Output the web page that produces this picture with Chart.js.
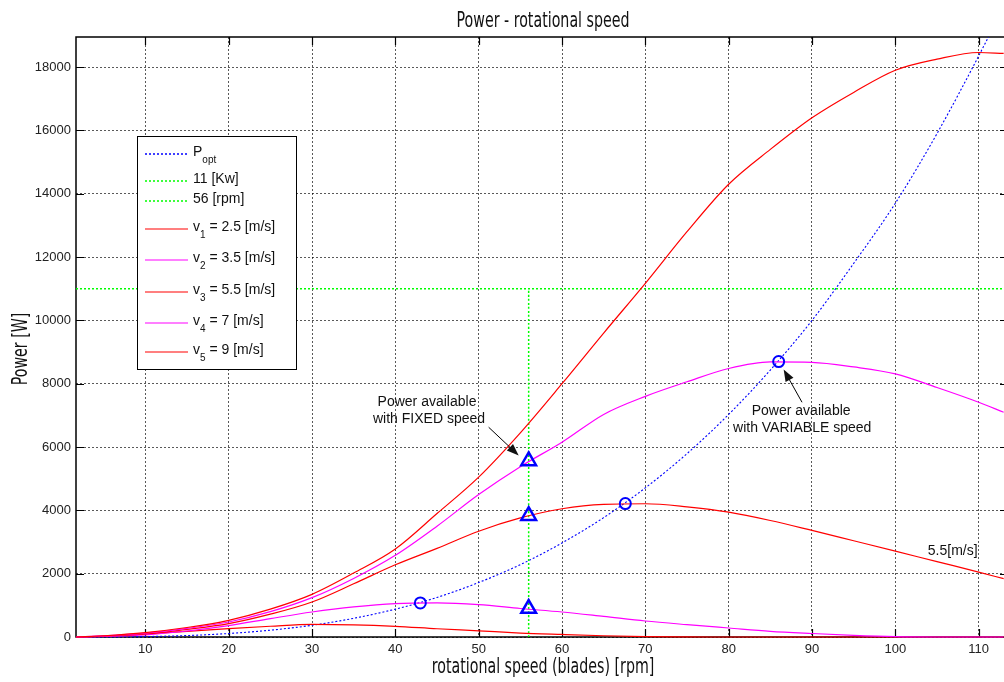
<!DOCTYPE html>
<html>
<head>
<meta charset="utf-8">
<title>Power - rotational speed</title>
<script src="https://cdn.jsdelivr.net/npm/chart.js@4.4.0/dist/chart.umd.min.js"></script>
<style>
  html, body { margin: 0; padding: 0; background: #fff; }
  #wrap { width: 1004px; height: 682px; }
</style>
</head>
<body>
<div id="wrap"><canvas id="powerChart" width="1004" height="682"></canvas></div>
<script>
// rotational speed of the blades [rpm], shared by every curve
const rpm = [1.7, 5, 10, 15, 20, 25, 30, 35, 40, 45, 50, 55, 60, 65, 70, 75, 80, 85, 90, 95, 100, 105, 110, 113];

// power [W]
const pOpt = [0, 2, 14, 46, 110, 215, 370, 590, 880, 1250, 1720, 2285, 2970, 3770, 4710, 5790, 7030, 8430, 10000, 11800, 13700, 15900, 18350, 19900];
const pV1  = [0, 25, 100, 180, 265, 340, 400, 385, 337, 260, 195, 125, 80, 40, 12, 2, 0, 0, 0, 0, 0, 0, 0, 0];
const pV2  = [0, 20, 70, 190, 360, 580, 789, 950, 1053, 1075, 1022, 900, 790, 650, 505, 390, 284, 180, 110, 50, 10, 0, 0, 0];
const pV3  = [0, 30, 100, 240, 422, 720, 1105, 1680, 2280, 2800, 3340, 3760, 4050, 4190, 4209, 4110, 3944, 3680, 3366, 3040, 2713, 2380, 2051, 1842];
const pV4  = [0, 35, 120, 270, 473, 800, 1243, 1850, 2580, 3500, 4500, 5380, 6152, 7030, 7600, 8060, 8480, 8690, 8676, 8530, 8310, 7880, 7414, 7099];
const pV5  = [0, 40, 140, 300, 527, 880, 1347, 2020, 2780, 3900, 5050, 6450, 8000, 9600, 11170, 12800, 14300, 15400, 16400, 17200, 17900, 18250, 18460, 18430];

// optimum operating points (variable speed) and fixed-speed points
const optRpm = [43, 67.6, 86];
const optPower = [1075, 4215, 8700];
const fixedRpm = [56, 56, 56];
const fixedPower = [900, 3830, 5560];

// rated power and rated speed
const ratedPower = 11000;
const ratedRpm = 56;

const xTicks = [10, 20, 30, 40, 50, 60, 70, 80, 90, 100, 110];
const yTicks = [0, 2000, 4000, 6000, 8000, 10000, 12000, 14000, 16000, 18000];
const xMin = 1.68, xMax = 113.04, yMax = 18950;

const RED = '#ff0000', MAGENTA = '#ff00ff', BLUE = '#0000ff', GREEN = '#00ff00';

const toXY = arr => rpm.map((x, i) => ({ x, y: arr[i] }));

function curve(data, color, dash, width) {
    return {
        data,
        borderColor: color,
        borderWidth: width || 1.2,
        borderDash: dash || [],
        pointRadius: 0,
        fill: false,
        cubicInterpolationMode: 'monotone',
        clip: { left: 0, top: 0, right: 0, bottom: 3 }
    };
}

// legend rows: main text, subscript, rest of text, colour, dash, line y
const legendRows = [
    ['P', 'opt', '', BLUE, [2, 2], 154],
    ['11 [Kw]', '', '', GREEN, [2, 2], 181],
    ['56 [rpm]', '', '', GREEN, [2, 2], 201],
    ['v', '1', ' = 2.5 [m/s]', RED, [], 229],
    ['v', '2', ' = 3.5 [m/s]', MAGENTA, [], 260],
    ['v', '3', ' = 5.5 [m/s]', RED, [], 292],
    ['v', '4', ' = 7 [m/s]', MAGENTA, [], 323],
    ['v', '5', ' = 9 [m/s]', RED, [], 352]
];

function arrow(ctx, x1, y1, x2, y2) {
    const a = Math.atan2(y2 - y1, x2 - x1);
    const head = 12, half = 4.5;
    ctx.beginPath();
    ctx.moveTo(x1, y1);
    ctx.lineTo(x2 - head * 0.8 * Math.cos(a), y2 - head * 0.8 * Math.sin(a));
    ctx.stroke();
    ctx.beginPath();
    ctx.moveTo(x2, y2);
    ctx.lineTo(x2 - head * Math.cos(a) + half * Math.sin(a), y2 - head * Math.sin(a) - half * Math.cos(a));
    ctx.lineTo(x2 - head * Math.cos(a) - half * Math.sin(a), y2 - head * Math.sin(a) + half * Math.cos(a));
    ctx.closePath();
    ctx.fill();
}

const matlabLook = {
    id: 'matlabLook',
    beforeDatasetsDraw(chart) {
        const { ctx, chartArea: a, scales: { x, y } } = chart;
        ctx.save();
        ctx.strokeStyle = '#000';
        ctx.lineWidth = 1.5;
        ctx.beginPath();
        ctx.moveTo(a.right + 2, a.top);
        ctx.lineTo(a.left, a.top);
        ctx.lineTo(a.left, a.bottom);
        ctx.lineTo(a.right + 2, a.bottom);
        ctx.stroke();
        // ticks pointing inwards
        ctx.lineWidth = 1.2;
        ctx.beginPath();
        xTicks.forEach(v => {
            const px = Math.round(x.getPixelForValue(v)) + 0.5;
            ctx.moveTo(px, a.bottom); ctx.lineTo(px, a.bottom - 8);
            ctx.moveTo(px, a.top); ctx.lineTo(px, a.top + 8);
        });
        yTicks.forEach(v => {
            const py = Math.round(y.getPixelForValue(v)) + 0.5;
            ctx.moveTo(a.left, py); ctx.lineTo(a.left + 8, py);
            ctx.moveTo(a.right, py); ctx.lineTo(a.right - 4, py);
        });
        ctx.stroke();
        ctx.restore();
    },
    afterDraw(chart) {
        const { ctx, scales: { x, y } } = chart;
        ctx.save();

        // legend box
        ctx.fillStyle = '#fff';
        ctx.fillRect(137, 136, 160, 234);
        ctx.strokeStyle = '#000';
        ctx.lineWidth = 1;
        ctx.strokeRect(137.5, 136.5, 159, 233);
        legendRows.forEach(([main, sub, rest, color, dash, ly]) => {
            ctx.strokeStyle = color;
            ctx.lineWidth = dash.length ? 1.5 : 1.2;
            ctx.setLineDash(dash);
            ctx.beginPath();
            ctx.moveTo(145, ly);
            ctx.lineTo(188, ly);
            ctx.stroke();
            ctx.setLineDash([]);
            ctx.fillStyle = '#111';
            ctx.textAlign = 'left';
            ctx.textBaseline = 'middle';
            ctx.font = '14px "Liberation Sans", Arial, sans-serif';
            let tx = 193;
            ctx.fillText(main, tx, ly - 2);
            tx += ctx.measureText(main).width;
            if (sub) {
                ctx.font = '10px "Liberation Sans", Arial, sans-serif';
                ctx.fillText(sub, tx, ly + 6);
                tx += ctx.measureText(sub).width;
                ctx.font = '14px "Liberation Sans", Arial, sans-serif';
                ctx.fillText(rest, tx, ly - 2);
            }
        });

        // annotations
        ctx.fillStyle = '#111';
        ctx.strokeStyle = '#000';
        ctx.lineWidth = 1;
        ctx.font = '14px "Liberation Sans", Arial, sans-serif';
        ctx.textAlign = 'center';
        ctx.textBaseline = 'middle';
        let cx = x.getPixelForValue(43.8), cy = y.getPixelForValue(7164);
        ctx.fillText('Power available', cx, cy - 8.5);
        ctx.fillText('with FIXED speed', cx + 2, cy + 8.5);
        arrow(ctx, x.getPixelForValue(51.2), y.getPixelForValue(6625), x.getPixelForValue(54.8), y.getPixelForValue(5733));

        cx = x.getPixelForValue(88.7); cy = y.getPixelForValue(6873);
        ctx.fillText('Power available', cx, cy - 8.5);
        ctx.fillText('with VARIABLE speed', cx + 1, cy + 8.5);
        arrow(ctx, x.getPixelForValue(88.8), y.getPixelForValue(7414), x.getPixelForValue(86.6), y.getPixelForValue(8450));

        ctx.textAlign = 'left';
        ctx.fillText('5.5[m/s]', x.getPixelForValue(103.9), y.getPixelForValue(2708));

        // title and axis labels in a narrow face
        ctx.fillStyle = '#111';
        ctx.font = '22px "DejaVu Sans", sans-serif';
        ctx.textAlign = 'center';
        ctx.textBaseline = 'alphabetic';
        const title = 'Power - rotational speed';
        const sx = 173 / ctx.measureText(title).width;
        const narrow = (text, px, py, rot) => {
            ctx.save();
            ctx.translate(px, py);
            if (rot) ctx.rotate(rot);
            ctx.scale(sx, 1);
            ctx.fillText(text, 0, 0);
            ctx.restore();
        };
        narrow(title, 543, 27);
        narrow('rotational speed (blades) [rpm]', 543, 673);
        narrow('Power [W]', 27, 349, -Math.PI / 2);
        ctx.restore();
    }
};

const tickFont = { family: '"Liberation Sans", Arial, sans-serif', size: 13 };

new Chart(document.getElementById('powerChart'), {
    type: 'line',
    data: {
        datasets: [
            {
                data: optRpm.map((v, i) => ({ x: v, y: optPower[i] })),
                showLine: false,
                pointStyle: 'circle',
                pointRadius: 5.5,
                pointBorderWidth: 2,
                pointBorderColor: BLUE,
                pointBackgroundColor: 'rgba(0,0,0,0)'
            },
            {
                data: fixedRpm.map((v, i) => ({ x: v, y: fixedPower[i] })),
                showLine: false,
                pointStyle: 'triangle',
                pointRadius: 8.5,
                pointBorderWidth: 2.5,
                pointBorderColor: BLUE,
                pointBackgroundColor: 'rgba(0,0,0,0)'
            },
            curve(toXY(pV5), RED),
            curve(toXY(pV4), MAGENTA),
            curve(toXY(pV3), RED),
            curve(toXY(pV2), MAGENTA),
            curve(toXY(pV1), RED),
            curve([{ x: ratedRpm, y: 0 }, { x: ratedRpm, y: ratedPower }], GREEN, [2, 2], 1.5),
            curve([{ x: xMin, y: ratedPower }, { x: xMax, y: ratedPower }], GREEN, [2, 2], 1.5),
            curve(toXY(pOpt), BLUE, [2, 2], 1.1)
        ]
    },
    options: {
        responsive: false,
        animation: false,
        events: [],
        layout: { autoPadding: false, padding: { top: 37, right: 0, left: 0, bottom: 0 } },
        plugins: { legend: { display: false }, tooltip: { enabled: false }, title: { display: false } },
        scales: {
            x: {
                type: 'linear',
                min: xMin,
                max: xMax,
                afterBuildTicks: s => { s.ticks = xTicks.map(v => ({ value: v })); },
                afterFit: s => { s.height = 45; s.paddingLeft = 0; s.paddingRight = 0; },
                ticks: { font: tickFont, color: '#222', padding: 5, maxRotation: 0, autoSkip: false, callback: v => String(v) },
                grid: { color: 'rgba(0,0,0,0.65)', lineWidth: 1, drawTicks: false },
                border: { display: false, dash: [2, 2] }
            },
            y: {
                type: 'linear',
                min: 0,
                max: yMax,
                afterBuildTicks: s => { s.ticks = yTicks.map(v => ({ value: v })); },
                afterFit: s => { s.width = 76; s.paddingTop = 0; s.paddingBottom = 0; },
                ticks: { font: tickFont, color: '#222', padding: 5, autoSkip: false, callback: v => String(v) },
                grid: { color: 'rgba(0,0,0,0.65)', lineWidth: 1, drawTicks: false },
                border: { display: false, dash: [2, 2] }
            }
        }
    },
    plugins: [matlabLook]
});
</script>
</body>
</html>
